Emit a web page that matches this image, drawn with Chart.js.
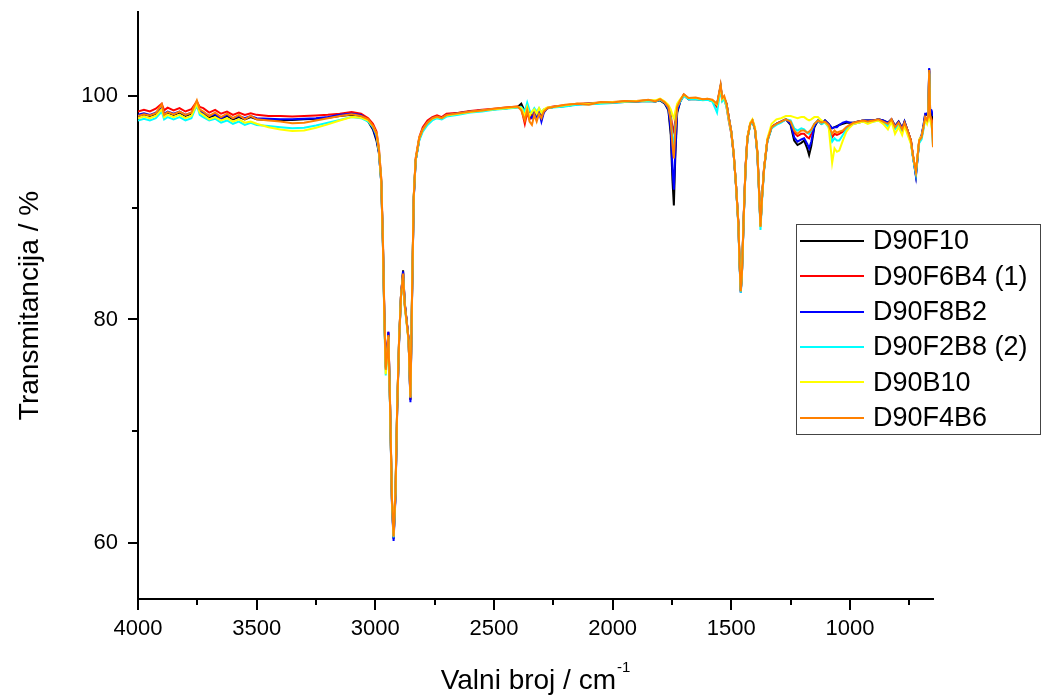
<!DOCTYPE html>
<html>
<head>
<meta charset="utf-8">
<script src="https://cdn.jsdelivr.net/npm/chart.js@4/dist/chart.umd.min.js"></script>
<style>
html,body{margin:0;padding:0;background:#fff;}
#wrap{width:1044px;height:699px;position:relative;}
</style>
</head>
<body>
<div id="wrap"><canvas id="c" width="1044" height="699"></canvas></div>
<script>
// ---- DATA ----
const wavenumbers = [
  4000, 3975, 3950, 3925, 3900, 3890, 3875, 3850, 3825, 3800,
  3775, 3752, 3740, 3725, 3700, 3675, 3650, 3625, 3600, 3575,
  3550, 3525, 3500, 3450, 3400, 3350, 3300, 3250, 3200, 3150,
  3100, 3060, 3030, 3010, 2995, 2985, 2975, 2968, 2962, 2956,
  2950, 2945, 2938, 2930, 2923, 2915, 2908, 2900, 2892, 2883,
  2876, 2868, 2860, 2852, 2845, 2838, 2830, 2815, 2800, 2780,
  2760, 2740, 2720, 2700, 2650, 2600, 2550, 2500, 2450, 2400,
  2385, 2370, 2360, 2350, 2340, 2330, 2320, 2310, 2300, 2290,
  2275, 2250, 2200, 2150, 2100, 2050, 2000, 1950, 1900, 1850,
  1820, 1800, 1780, 1765, 1755, 1748, 1742, 1736, 1728, 1715,
  1700, 1680, 1650, 1620, 1600, 1580, 1560, 1545, 1538, 1530,
  1520, 1510, 1500, 1490, 1480, 1470, 1465, 1460, 1455, 1447,
  1440, 1432, 1420, 1411, 1400, 1390, 1383, 1377, 1370, 1362,
  1348, 1330, 1310, 1290, 1270, 1250, 1235, 1221, 1205, 1193,
  1180, 1172, 1163, 1150, 1135, 1120, 1105, 1090, 1075, 1065,
  1055, 1045, 1030, 1015, 1000, 985, 965, 945, 925, 900,
  880, 860, 840, 825, 810, 795, 780, 770, 757, 743,
  736, 729, 722, 715, 708, 698, 690, 683, 675, 670,
  666, 662, 656, 650
];

const d90f10 = [
  98.2, 98.35, 98.2, 98.4, 98.8, 98.3, 98.5, 98.3, 98.5, 98.2,
  98.4, 99.1, 98.6, 98.4, 98.1, 98.25, 97.9, 98.2, 97.9, 98.1,
  97.9, 98.1, 97.9, 97.85, 97.85, 97.85, 97.9, 97.95, 98.05, 98.2,
  98.3, 98.2, 97.7, 97.0, 96.0, 94.9, 92.3, 86.8, 80.4, 75.7,
  77.0, 78.8, 72.5, 63.8, 60.4, 64.3, 71.9, 78.0, 82.1, 84.4,
  81.5, 79.9, 78.3, 72.8, 82.3, 90.9, 94.2, 96.1, 97.0, 97.6,
  98.0, 98.1, 98.0, 98.3, 98.45, 98.6, 98.7, 98.8, 98.9, 99.0,
  99.3, 98.6, 98.9, 98.5, 98.2, 98.6, 98.3, 98.7, 97.9, 98.6,
  98.9, 99.0, 99.1, 99.25, 99.3, 99.35, 99.4, 99.45, 99.5, 99.55,
  99.5, 99.6, 99.3, 98.7, 96.5, 92.5, 90.2, 94.5, 98.5, 99.5,
  100.05, 99.7, 99.7, 99.65, 99.65, 99.55, 99.2, 100.8, 99.7, 99.8,
  99.3, 98.0, 96.8, 94.8, 92.0, 88.5, 85.0, 82.5, 84.2, 89.5,
  93.5, 96.2, 97.5, 97.8, 97.0, 94.9, 91.6, 88.4, 91.1, 93.5,
  96.0, 97.2, 97.5, 97.7, 97.9, 97.4, 96.0, 95.6, 95.8, 96.0,
  95.3, 94.7, 95.5, 97.2, 97.8, 97.5, 97.8, 97.5, 97.1, 97.2,
  97.3, 97.4, 97.5, 97.6, 97.6, 97.6, 97.7, 97.8, 97.8, 97.8,
  97.9, 97.8, 97.6, 97.9, 97.3, 97.7, 97.1, 97.7, 96.9, 96.0,
  94.8, 93.9, 92.9, 94.5, 96.0, 96.4, 97.3, 98.3, 98.3, 98.5,
  102.4, 98.6, 98.5, 97.8
];

const d90f6b4 = [
  98.6, 98.75, 98.6, 98.85, 99.3, 98.7, 98.95, 98.7, 98.9, 98.6,
  98.8, 99.5, 99.0, 98.9, 98.5, 98.75, 98.4, 98.6, 98.3, 98.5,
  98.3, 98.45, 98.3, 98.2, 98.2, 98.15, 98.2, 98.25, 98.3, 98.4,
  98.55, 98.4, 98.0, 97.5, 96.8, 95.4, 92.6, 87.2, 80.7, 75.8,
  77.2, 78.9, 72.7, 64.0, 60.5, 64.4, 72.0, 78.1, 82.1, 84.2,
  81.4, 79.8, 78.2, 72.9, 82.4, 91.0, 94.4, 96.3, 97.2, 97.8,
  98.1, 98.25, 98.1, 98.4, 98.5, 98.65, 98.75, 98.85, 98.95, 99.05,
  98.9, 97.5, 98.5, 97.9, 98.2, 98.6, 98.3, 98.7, 98.4, 98.7,
  98.95, 99.05, 99.15, 99.3, 99.35, 99.4, 99.45, 99.5, 99.55, 99.6,
  99.55, 99.7, 99.45, 99.1, 98.3, 97.2, 96.8, 97.8, 99.1, 99.6,
  100.1, 99.75, 99.75, 99.65, 99.7, 99.55, 99.0, 100.8, 99.6, 99.8,
  99.0, 97.7, 96.6, 94.8, 92.0, 88.6, 85.1, 82.6, 84.3, 89.6,
  93.6, 96.3, 97.5, 97.8, 97.0, 94.9, 91.6, 88.4, 91.1, 93.5,
  96.0, 97.2, 97.5, 97.7, 97.9, 97.6, 96.7, 96.4, 96.6, 96.6,
  96.3, 96.2, 96.6, 97.4, 97.8, 97.6, 97.7, 97.3, 96.3, 96.6,
  96.5, 96.6, 96.8, 97.1, 97.4, 97.5, 97.6, 97.7, 97.7, 97.8,
  97.85, 97.7, 97.5, 97.9, 97.2, 97.6, 97.0, 97.6, 96.9, 96.0,
  94.9, 94.0, 93.2, 94.6, 96.0, 96.3, 97.2, 98.0, 97.9, 98.3,
  102.2, 98.2, 97.9, 97.0
];

const d90f8b2 = [
  98.3, 98.45, 98.3, 98.5, 98.9, 98.4, 98.6, 98.4, 98.6, 98.3,
  98.5, 99.2, 98.7, 98.5, 98.2, 98.35, 98.0, 98.3, 98.0, 98.2,
  98.0, 98.2, 98.0, 97.95, 97.9, 97.9, 97.95, 98.0, 98.1, 98.3,
  98.4, 98.3, 97.8, 97.1, 96.2, 95.0, 92.3, 86.8, 80.3, 75.6,
  77.0, 78.9, 72.4, 63.6, 60.2, 64.1, 71.7, 77.8, 82.0, 84.3,
  81.4, 79.9, 78.3, 72.6, 82.2, 90.8, 94.2, 96.1, 97.0, 97.6,
  98.0, 98.1, 98.0, 98.3, 98.45, 98.6, 98.7, 98.8, 98.9, 99.0,
  98.9, 98.3, 98.8, 98.3, 98.0, 98.4, 98.1, 98.6, 97.7, 98.5,
  98.9, 99.0, 99.1, 99.25, 99.3, 99.35, 99.4, 99.5, 99.5, 99.6,
  99.5, 99.65, 99.35, 98.8, 97.0, 93.5, 91.6, 95.0, 98.6, 99.5,
  100.1, 99.7, 99.75, 99.7, 99.7, 99.6, 99.2, 100.9, 99.7, 99.8,
  99.3, 98.0, 96.8, 94.8, 92.0, 88.5, 84.9, 82.4, 84.1, 89.4,
  93.5, 96.2, 97.5, 97.8, 97.0, 94.8, 91.5, 88.3, 91.0, 93.4,
  96.0, 97.2, 97.5, 97.7, 97.9, 97.5, 96.3, 95.9, 96.1, 96.2,
  95.7, 95.3, 95.9, 97.3, 97.8, 97.6, 97.8, 97.5, 97.1, 97.2,
  97.2, 97.4, 97.6, 97.7, 97.6, 97.6, 97.7, 97.8, 97.8, 97.8,
  97.9, 97.8, 97.6, 97.9, 97.3, 97.7, 97.1, 97.7, 96.9, 95.9,
  94.8, 93.8, 92.8, 94.4, 96.0, 96.5, 97.4, 98.4, 98.4, 98.6,
  102.5, 98.8, 98.7, 98.2
];

const d90f2b8 = [
  97.8, 97.95, 97.8, 98.0, 98.6, 97.9, 98.1, 97.9, 98.1, 97.8,
  98.0, 99.2, 98.3, 98.1, 97.8, 97.95, 97.6, 97.8, 97.5, 97.7,
  97.4, 97.6, 97.4, 97.3, 97.2, 97.1, 97.15, 97.35, 97.6, 97.85,
  98.1, 98.0, 97.7, 97.2, 96.5, 95.1, 92.3, 86.7, 80.0, 75.0,
  76.6, 78.4, 72.3, 63.9, 60.5, 64.5, 72.0, 78.0, 81.9, 84.0,
  81.2, 79.7, 78.1, 73.0, 82.5, 91.0, 94.2, 96.0, 96.8, 97.4,
  97.8, 98.0, 97.9, 98.15, 98.3, 98.5, 98.6, 98.75, 98.85, 98.95,
  99.0, 98.6, 99.4, 98.7, 98.5, 98.9, 98.6, 98.9, 98.5, 98.8,
  98.9, 98.95, 99.05, 99.2, 99.25, 99.3, 99.35, 99.45, 99.5, 99.55,
  99.5, 99.65, 99.4, 99.0, 98.0, 96.2, 95.6, 97.3, 99.0, 99.5,
  100.0, 99.7, 99.7, 99.6, 99.65, 99.5, 98.5, 100.7, 99.5, 99.7,
  99.0, 97.8, 96.7, 94.8, 91.9, 88.3, 84.8, 82.4, 84.1, 89.4,
  93.4, 96.1, 97.4, 97.7, 96.9, 94.7, 91.3, 88.0, 90.8, 93.3,
  95.9, 97.1, 97.4, 97.6, 97.9, 97.8, 97.1, 96.9, 97.1, 97.0,
  96.7, 96.6, 96.9, 97.5, 97.8, 97.5, 97.6, 97.2, 95.9, 96.2,
  96.0, 96.0, 96.5, 97.0, 97.3, 97.5, 97.6, 97.7, 97.6, 97.7,
  97.8, 97.6, 97.3, 97.8, 97.0, 97.4, 96.8, 97.4, 96.7, 95.8,
  94.7, 93.8, 93.0, 94.4, 95.8, 96.1, 97.0, 97.9, 97.6, 98.0,
  102.1, 97.9, 97.5, 95.5
];

const d90b10 = [
  98.0, 98.15, 98.0, 98.2, 98.8, 98.1, 98.3, 98.1, 98.3, 98.0,
  98.2, 99.3, 98.5, 98.3, 97.9, 98.1, 97.8, 98.0, 97.7, 97.9,
  97.6, 97.7, 97.5, 97.2, 97.0, 96.85, 96.9, 97.15, 97.45, 97.8,
  98.1, 98.05, 97.8, 97.3, 96.6, 95.2, 92.4, 86.8, 80.1, 75.1,
  76.7, 78.5, 72.4, 64.0, 60.6, 64.6, 72.1, 78.1, 82.0, 84.0,
  81.2, 79.7, 78.1, 73.1, 82.6, 91.1, 94.3, 96.2, 97.0, 97.6,
  97.95, 98.1, 98.0, 98.25, 98.4, 98.55, 98.7, 98.8, 98.9, 99.0,
  98.9, 98.2, 99.0, 98.2, 98.6, 98.8, 98.4, 98.9, 98.5, 98.8,
  98.95, 99.0, 99.15, 99.3, 99.3, 99.4, 99.45, 99.5, 99.55, 99.6,
  99.6, 99.75, 99.5, 99.2, 98.8, 98.3, 98.0, 98.6, 99.3, 99.7,
  100.1, 99.8, 99.8, 99.7, 99.75, 99.6, 99.2, 100.8, 99.7, 99.9,
  99.2, 97.9, 96.8, 94.9, 92.0, 88.5, 85.0, 82.6, 84.2, 89.5,
  93.5, 96.3, 97.6, 97.9, 97.2, 95.0, 91.5, 88.3, 91.0, 93.5,
  96.2, 97.5, 97.9, 98.0, 98.2, 98.2, 98.1, 98.0, 98.1, 98.1,
  97.9, 97.8, 97.9, 98.1, 98.1, 97.8, 97.6, 97.3, 94.0, 95.3,
  95.0, 95.1, 96.0, 96.8, 97.2, 97.5, 97.6, 97.7, 97.5, 97.7,
  97.8, 97.5, 97.0, 97.7, 96.6, 97.2, 96.5, 97.3, 96.5, 95.7,
  94.8, 94.0, 93.3, 94.7, 96.1, 96.4, 97.2, 97.9, 97.5, 97.9,
  102.0, 97.8, 97.3, 96.5
];

const d90f4b6 = [
  98.2, 98.35, 98.25, 98.45, 99.25, 98.3, 98.55, 98.35, 98.6, 98.3,
  98.5, 99.6, 98.8, 98.6, 98.2, 98.5, 98.1, 98.4, 98.0, 98.3,
  97.9, 98.2, 97.9, 97.8, 97.7, 97.55, 97.6, 97.8, 98.0, 98.2,
  98.35, 98.2, 97.9, 97.3, 96.6, 95.2, 92.5, 87.0, 80.5, 75.5,
  76.8, 78.6, 72.5, 64.0, 60.6, 64.5, 72.0, 78.0, 82.0, 84.1,
  81.3, 79.8, 78.2, 73.0, 82.5, 91.0, 94.3, 96.2, 97.0, 97.6,
  98.0, 98.15, 98.0, 98.3, 98.45, 98.6, 98.7, 98.85, 98.95, 99.05,
  98.7, 97.8, 98.7, 97.7, 97.4, 98.3, 97.7, 98.4, 98.0, 98.6,
  98.9, 99.0, 99.2, 99.3, 99.2, 99.45, 99.4, 99.55, 99.5, 99.65,
  99.5, 99.7, 99.4, 99.0, 97.8, 95.6, 94.4, 96.8, 99.0, 99.6,
  100.15, 99.8, 99.85, 99.7, 99.75, 99.65, 99.3, 101.0, 99.8, 100.0,
  99.3, 98.0, 96.8, 94.9, 92.0, 88.5, 85.0, 82.5, 84.2, 89.5,
  93.5, 96.2, 97.5, 97.8, 97.0, 94.9, 91.5, 88.3, 91.0, 93.4,
  96.0, 97.2, 97.5, 97.7, 97.9, 97.7, 96.9, 96.6, 96.9, 96.9,
  96.7, 96.8, 97.0, 97.5, 97.8, 97.6, 97.7, 97.4, 96.6, 96.9,
  96.7, 96.8, 96.9, 97.2, 97.4, 97.6, 97.7, 97.8, 97.7, 97.8,
  97.9, 97.7, 97.5, 97.9, 97.2, 97.6, 97.0, 97.6, 96.9, 96.0,
  94.9, 94.0, 93.2, 94.6, 96.0, 96.3, 97.2, 98.1, 97.8, 98.2,
  102.3, 98.1, 97.8, 95.4
];

const seriesNames = ['D90F10', 'D90F6B4 (1)', 'D90F8B2', 'D90F2B8 (2)', 'D90B10', 'D90F4B6'];
const seriesValues = [d90f10, d90f6b4, d90f8b2, d90f2b8, d90b10, d90f4b6];
const seriesColors = ['#000000', '#ff0000', '#0000ff', '#00ffff', '#ffff00', '#ff8000'];

const xMajorTicks = [4000, 3500, 3000, 2500, 2000, 1500, 1000];
const xMinorTicks = [3750, 3250, 2750, 2250, 1750, 1250, 750];
const yMajorTicks = [60, 80, 100];
const yMinorTicks = [70, 90];

const xTitleMain = 'Valni broj / cm';
const xTitleSup = '-1';
const yTitle = 'Transmitancija / %';

// ---- CHART ----
const FONT = "'Liberation Sans', Arial, Helvetica, sans-serif";

const datasets = seriesValues.map((vals, i) => ({
  label: seriesNames[i],
  data: wavenumbers.map((w, j) => ({x: w, y: vals[j]})),
  borderColor: seriesColors[i],
  backgroundColor: seriesColors[i],
  borderWidth: 2,
  pointRadius: 0,
  tension: 0,
  fill: false,
  order: seriesValues.length - 1 - i
}));

const overlay = {
  id: 'overlay',
  afterDraw(chart) {
    const ctx = chart.ctx;
    const a = chart.chartArea;
    const xs = chart.scales.x, ys = chart.scales.y;
    ctx.save();
    // tick marks
    ctx.strokeStyle = '#000';
    ctx.lineWidth = 2;
    ctx.beginPath();
    xMajorTicks.forEach(v => { const p = Math.round(xs.getPixelForValue(v)); ctx.moveTo(p, a.bottom); ctx.lineTo(p, a.bottom + 11); });
    xMinorTicks.forEach(v => { const p = Math.round(xs.getPixelForValue(v)); ctx.moveTo(p, a.bottom); ctx.lineTo(p, a.bottom + 6); });
    yMajorTicks.forEach(v => { const p = Math.round(ys.getPixelForValue(v)); ctx.moveTo(a.left, p); ctx.lineTo(a.left - 10, p); });
    yMinorTicks.forEach(v => { const p = Math.round(ys.getPixelForValue(v)); ctx.moveTo(a.left, p); ctx.lineTo(a.left - 6, p); });
    ctx.stroke();

    // legend
    const bx = 796.5, by = 224.5, bw = 244, bh = 210;
    ctx.fillStyle = '#fff';
    ctx.fillRect(bx, by, bw, bh);
    ctx.strokeStyle = '#444';
    ctx.lineWidth = 1;
    ctx.strokeRect(bx, by, bw, bh);
    ctx.font = '27px ' + FONT;
    ctx.textBaseline = 'middle';
    ctx.textAlign = 'left';
    seriesNames.forEach((name, i) => {
      const cy = 241 + i * 35.3;
      ctx.strokeStyle = seriesColors[i];
      ctx.lineWidth = 2;
      ctx.beginPath();
      ctx.moveTo(800, Math.round(cy));
      ctx.lineTo(864, Math.round(cy));
      ctx.stroke();
      ctx.fillStyle = '#000';
      ctx.fillText(name, 873, cy + 1);
    });

    // x axis title with superscript
    ctx.fillStyle = '#000';
    ctx.textBaseline = 'alphabetic';
    ctx.font = '28px ' + FONT;
    const w1 = ctx.measureText(xTitleMain).width;
    ctx.font = '15px ' + FONT;
    const w2 = ctx.measureText(xTitleSup).width;
    const cx = (a.left + a.right) / 2;
    const sx = cx - (w1 + w2 + 1) / 2;
    ctx.font = '28px ' + FONT;
    ctx.fillText(xTitleMain, sx, 689);
    ctx.font = '15px ' + FONT;
    ctx.fillText(xTitleSup, sx + w1 + 1, 672);
    ctx.restore();
  }
};

new Chart(document.getElementById('c'), {
  type: 'line',
  data: { datasets },
  options: {
    responsive: false,
    animation: false,
    events: [],
    layout: { padding: { top: 12, right: 111, left: 0, bottom: 0 } },
    plugins: { legend: { display: false }, tooltip: { enabled: false } },
    scales: {
      x: {
        type: 'linear',
        reverse: true,
        min: 650,
        max: 4000,
        afterFit: s => { s.height = 100; s.paddingLeft = 0; s.paddingRight = 0; },
        afterBuildTicks: s => { s.ticks = xMajorTicks.map(v => ({ value: v })); },
        grid: { display: false, drawTicks: false },
        border: { display: true, color: '#000', width: 2 },
        ticks: { color: '#000', font: { family: FONT, size: 22 }, padding: 17, maxRotation: 0, autoSkip: false,
                 callback: v => String(v) }
      },
      y: {
        type: 'linear',
        min: 55,
        max: 107.5,
        afterFit: s => { s.width = 138; s.paddingTop = 0; s.paddingBottom = 0; },
        afterBuildTicks: s => { s.ticks = yMajorTicks.map(v => ({ value: v })); },
        grid: { display: false, drawTicks: false },
        border: { display: true, color: '#000', width: 2 },
        ticks: { color: '#000', font: { family: FONT, size: 22 }, padding: 20, autoSkip: false,
                 callback: v => String(v) },
        title: { display: true, text: yTitle, color: '#000', font: { family: FONT, size: 28 }, padding: { top: 13, bottom: 0 } }
      }
    }
  },
  plugins: [overlay]
});
</script>
</body>
</html>
